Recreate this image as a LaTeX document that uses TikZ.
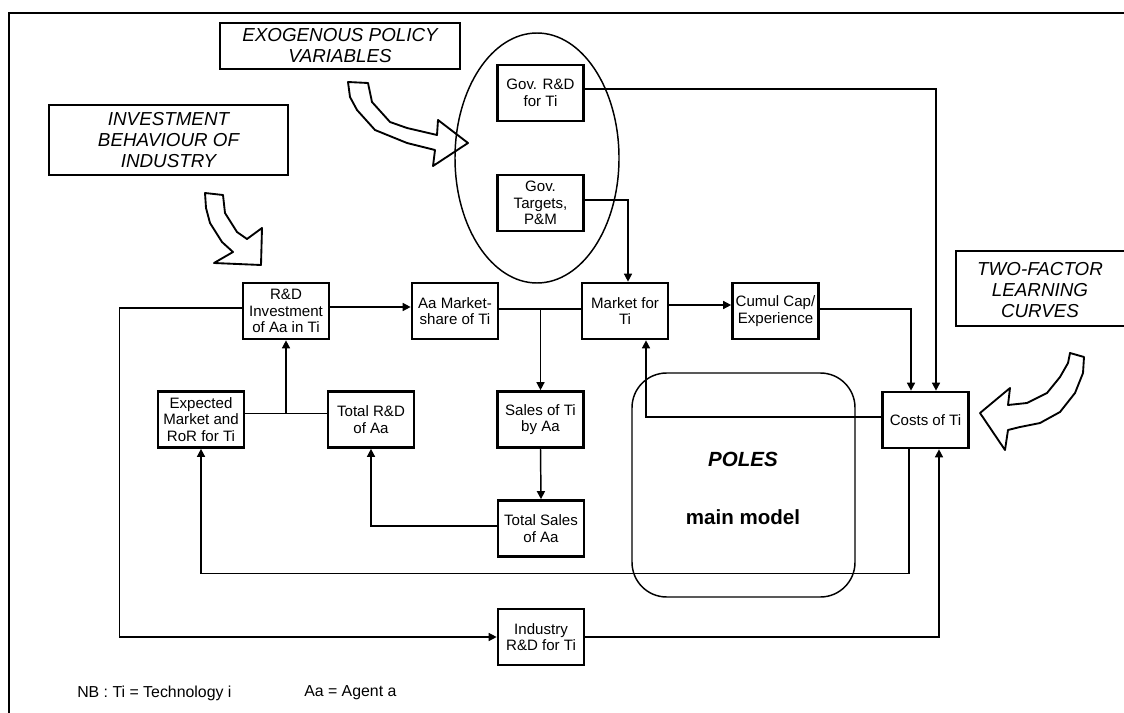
\documentclass[tikz,border=0pt]{standalone}
\usepackage{fontspec}
\setmainfont{Liberation Sans}
\usetikzlibrary{arrows.meta,calc,shapes.geometric}
\begin{document}
\begin{tikzpicture}[x=0.75pt,y=-0.75pt,
  box/.style={draw,line width=2pt,minimum width=64.5pt,minimum height=42pt,inner sep=1pt,align=center,font=\fontsize{11.3}{12.4}\selectfont},
  lbl/.style={draw,line width=0.9pt,align=center,font=\fontsize{14.1}{15.75}\selectfont\itshape},
  lbltext/.style={align=center,font=\fontsize{14.1}{15.75}\selectfont\itshape},
  conn/.style={line width=1.1pt},
  arr/.style={conn,-{Triangle[length=6pt,width=6pt]}},
  blk/.style={line width=1.4pt,line join=round},
  nb/.style={anchor=west,inner sep=0pt,font=\fontsize{11.9}{13}\selectfont}]
\useasboundingbox (0,0) rectangle (1124,713);
% frame
\draw[line width=2.2pt] (1130,13) -- (9,13) -- (9,720);
% label boxes
\node[lbl,minimum width=180pt,minimum height=34.5pt] (exo) at (340,46) {EXOGENOUS POLICY\\VARIABLES};
\node[lbl,minimum width=179.25pt,minimum height=52.5pt] (inv) at (168.5,140) {INVESTMENT\\BEHAVIOUR OF\\INDUSTRY};
\draw[line width=0.9pt] (1130,251) -- (956,251) -- (956,326) -- (1130,326);
\node[lbltext] (two) at (1040,290) {TWO-FACTOR\\LEARNING\\CURVES};
% policy ellipse
\node[ellipse,draw,line width=1.1pt,minimum width=123pt,minimum height=187.5pt,inner sep=0pt] (pol) at (537,158) {};
% POLES main model
\node[draw,rounded corners=26pt,line width=1.1pt,minimum width=167.25pt,minimum height=168pt] (poles) at (743.5,485) {};
\node[font=\fontsize{15.4}{18}\selectfont\bfseries\itshape] (polest) at (743,459) {POLES};
\node[font=\fontsize{15.4}{18}\selectfont\bfseries] (mainm) at (743,517) {main model};
% boxes
\node[box] (govrd) at (540.5,93) {Gov. R\&D\\for Ti};
\node[box] (govtg) at (540.5,203) {Gov.\\Targets,\\P\&M};
\node[box] (rdi) at (286,311) {R\&D\\Investment\\of Aa in Ti};
\node[box] (ams) at (455,311) {Aa Market-\\share of Ti};
\node[box] (mkt) at (625,311) {Market for\\Ti};
\node[box] (cum) at (775.5,311) {Cumul Cap/\\Experience};
\node[box] (exp) at (201,419.5) {Expected\\Market and\\RoR for Ti};
\node[box] (trd) at (371,419.5) {Total R\&D\\of Aa};
\node[box] (sales) at (540.5,419.5) {Sales of Ti\\by Aa};
\node[box] (costs) at (925.5,420) {Costs of Ti};
\node[box] (tsales) at (541,528.5) {Total Sales\\of Aa};
\node[box] (ind) at (541,637) {Industry\\R\&D for Ti};
% connectors
\draw[arr] ($(govrd.east)+(0,-4)$) -| ($(costs.north)+(10.5,0)$);
\draw[arr] ($(govtg.east)+(0,-3)$) -| ($(mkt.north)+(3,0)$);
\draw[arr] ($(rdi.east)+(0,-4)$) -- ($(ams.west)+(0,-4)$);
\draw[conn] ($(ams.east)+(0,-2)$) -- ($(mkt.west)+(0,-2)$);
\draw[arr] ($(sales.north |- ams.east)+(0,-2)$) -- (sales.north);
\draw[arr] ($(mkt.east)+(0,-6)$) -- ($(cum.west)+(0,-6)$);
\draw[arr] ($(cum.east)+(0,-2)$) -| ($(costs.north)+(-14.5,0)$);
\draw[arr] ($(costs.west)+(0,-3)$) -| ($(mkt.south)+(21,0)$);
\draw[conn] ($(exp.east)+(0,-6)$) -- ($(trd.west)+(0,-6)$);
\draw[arr] ($(rdi.south |- exp.east)+(0,-6)$) -- (rdi.south);
\draw[arr] (sales.south) -- (tsales.north);
\draw[arr] ($(tsales.west)+(0,-2.5)$) -| (trd.south);
\draw[arr] ($(costs.south)+(-16.5,0)$) -- ++(0,124) -| (exp.south);
\draw[arr] ($(rdi.west)+(0,-3)$) -- ++(-122,0) |- (ind.west);
\draw[arr] (ind.east) -| ($(costs.south)+(13.5,0)$);
% block arrows
\draw[blk] (348,82) -- (368,83) -- (372,102) -- (390,122) -- (407,128) -- (437,135) -- (438,120) -- (468,143) -- (433,166) -- (435,150) -- (407,143) -- (375,130) -- (357,110) -- (350,97) -- cycle;
\draw[blk] (205,193) -- (223,195) -- (225,213) -- (237,232) -- (247,239) -- (262,228) -- (261,265) -- (214,263) -- (233,252) -- (222,242) -- (210,223) -- (206,208) -- cycle;
\draw[blk] (1070,353) -- (1084,357) -- (1083,373) -- (1075,393) -- (1060,412) -- (1040,423) -- (1020,427) -- (1008,430) -- (1005,450) -- (980,413) -- (1010,388) -- (1008,405) -- (1027,403) -- (1047,393) -- (1060,377) -- (1068,363) -- cycle;
% note
\node[nb] (nb1) at (77,693) {NB : Ti = Technology i};
\node[nb] (nb2) at (304,693) {Aa = Agent a};
\end{tikzpicture}
\end{document}
